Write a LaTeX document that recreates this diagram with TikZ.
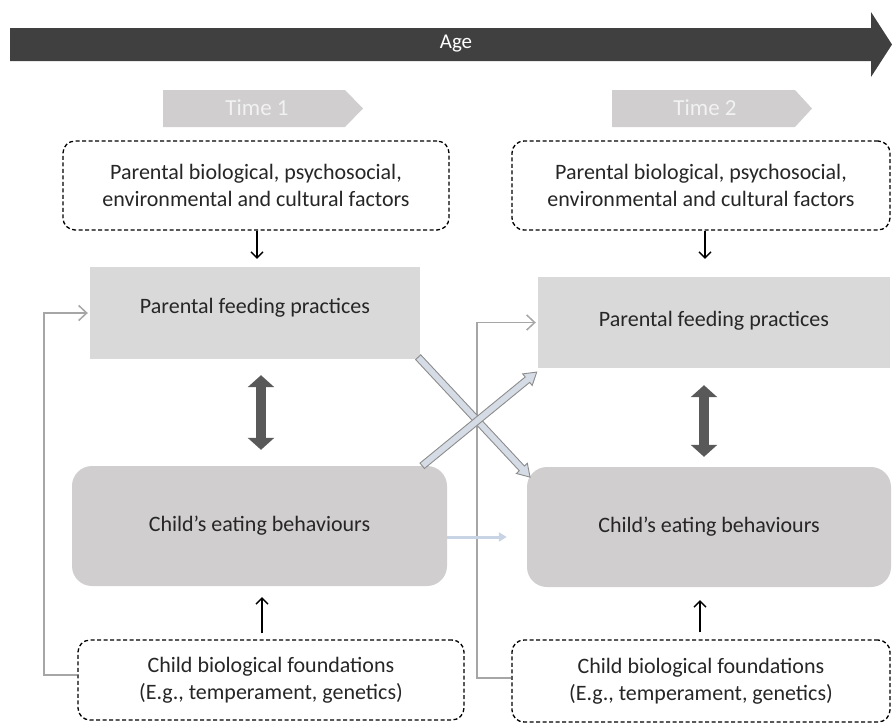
\documentclass[tikz,border=0pt]{standalone}
\usepackage{fontspec}
\setmainfont{Carlito}
\usetikzlibrary{arrows.meta,calc}
\definecolor{agecol}{HTML}{404040}
\definecolor{timecol}{HTML}{D0CECF}
\definecolor{pfpcol}{HTML}{D9D9D9}
\definecolor{cebcol}{HTML}{D0CECF}
\definecolor{txtcol}{HTML}{262626}
\definecolor{fbcol}{HTML}{A6A6A6}
\definecolor{crossfill}{HTML}{D6DCE5}
\definecolor{crossdraw}{HTML}{8C8C8C}
\definecolor{dblcol}{HTML}{595959}
\definecolor{hblue}{HTML}{C8D4E4}
\tikzset{
  txt/.style={font=\fontsize{22}{27}\selectfont, text=txtcol, align=center},
  dashbox/.style={txt, draw=black, dash pattern=on 4pt off 2.5pt, line width=1.3pt, rounded corners=12pt, inner sep=0pt},
  pfpbox/.style={txt, fill=pfpcol, inner sep=0pt},
  cebbox/.style={txt, fill=cebcol, rounded corners=20pt, inner sep=0pt},
  thinarr/.style={draw=black, line width=1.3pt, -{Straight Barb[length=6pt,width=12pt]}},
  fbline/.style={draw=fbcol, line width=1.5pt, -{Straight Barb[length=8pt,width=15pt]}},
  dblarr/.style={draw=dblcol, line width=10pt, {Triangle[length=12pt,width=26pt]}-{Triangle[length=12pt,width=26pt]}},
  crossarr/.style={fill=crossfill, draw=crossdraw, line width=0.9pt, line join=miter},
  timetxt/.style={font=\fontsize{23}{27}\selectfont, text=white!95!black},
}
\begin{document}
\begin{tikzpicture}[x=1pt,y=-1pt]
\useasboundingbox (0,0) rectangle (892,724);
% Age arrow
\fill[agecol] (10,28) -- (871,28) -- (871,12) -- (892,44.5) -- (871,77) -- (871,61) -- (10,61) -- cycle;
\node[font=\fontsize{21}{24}\selectfont, text=white] (age) at (456,44) {Age};
% Time pentagons
\fill[timecol] (163,90) -- (345,90) -- (363,108.5) -- (345,127) -- (163,127) -- cycle;
\node[timetxt] (t1) at (257,108) {Time 1};
\fill[timecol] (612,90) -- (795,90) -- (812,108.5) -- (795,127) -- (612,127) -- cycle;
\node[timetxt] (t2) at (705,108) {Time 2};
% Boxes
\node[dashbox, minimum width=386pt, minimum height=89pt] (top1) at (256,185.5) {Parental biological, psychosocial,\\environmental and cultural factors};
\node[dashbox, minimum width=378pt, minimum height=89pt] (top2) at (701,185.5) {Parental biological, psychosocial,\\environmental and cultural factors};
\node[pfpbox, minimum width=330pt, minimum height=92pt, text depth=14pt] (pfp1) at (255,313) {Parental feeding practices};
\node[pfpbox, minimum width=352pt, minimum height=91pt, text depth=8pt] (pfp2) at (714,322.5) {Parental feeding practices};
\node[cebbox, minimum width=375pt, minimum height=120pt] (ceb1) at (259.5,526) {Child’s eating behaviours};
\node[cebbox, minimum width=364pt, minimum height=120pt] (ceb2) at (709,527) {Child’s eating behaviours};
\node[dashbox, minimum width=386pt, minimum height=80pt] (cbf1) at (271,680) {Child biological foundations\\(E.g., temperament, genetics)};
\node[dashbox, minimum width=378pt, minimum height=82pt] (cbf2) at (701,681) {Child biological foundations\\(E.g., temperament, genetics)};
% thin black arrows
\draw[thinarr, shorten >=8pt] ([xshift=1pt]top1.south) -- ([xshift=1pt]top1.south |- pfp1.north);
\draw[thinarr, shorten >=18pt] ([xshift=4pt]top2.south) -- ([xshift=4pt]top2.south |- pfp2.north);
\draw[thinarr, shorten <=6pt, shorten >=11pt] ([xshift=-9pt]cbf1.north) -- ([xshift=-9pt]cbf1.north |- ceb1.south);
\draw[thinarr, shorten <=7pt, shorten >=13pt] ([xshift=-1pt]cbf2.north) -- ([xshift=-1pt]cbf2.north |- ceb2.south);
% double arrows
\draw[dblarr, shorten <=16pt, shorten >=16pt] ([xshift=6pt]pfp1.south) -- ([xshift=6pt]pfp1.south |- ceb1.north);
\draw[dblarr, shorten <=17pt, shorten >=10pt] ([xshift=-10pt]pfp2.south) -- ([xshift=-10pt]pfp2.south |- ceb2.north);
% feedback lines
\coordinate (fb1) at (44,675);
\draw[fbline] ([yshift=5pt]cbf1.west) -- (fb1) |- ([xshift=-2pt]pfp1.west);
\coordinate (fb2) at (477,678);
\draw[fbline] ([yshift=3pt]cbf2.west) -- (fb2) |- ([xshift=-2pt]pfp2.west);
% horizontal light blue arrow
\draw[draw=hblue, line width=3pt, -{Triangle[length=8pt,width=9pt]}] ([yshift=-11pt]ceb1.east) -- ([yshift=-11pt,xshift=-20pt]ceb1.east -| ceb2.west);
% cross arrows
\begin{scope}[shift={([xshift=-2pt,yshift=2pt]pfp1.south east)}, rotate=-47]
\draw[crossarr] (0,3.5) -- (152,3.5) -- (152,7.5) -- (164,0) -- (152,-7.5) -- (152,-3.5) -- (0,-3.5) -- cycle;
\end{scope}
\begin{scope}[shift={([xshift=-25pt]ceb1.north east)}, rotate=39.3]
\draw[crossarr] (0,3.5) -- (136,3.5) -- (136,7.5) -- (148,0) -- (136,-7.5) -- (136,-3.5) -- (0,-3.5) -- cycle;
\end{scope}
\end{tikzpicture}
\end{document}
